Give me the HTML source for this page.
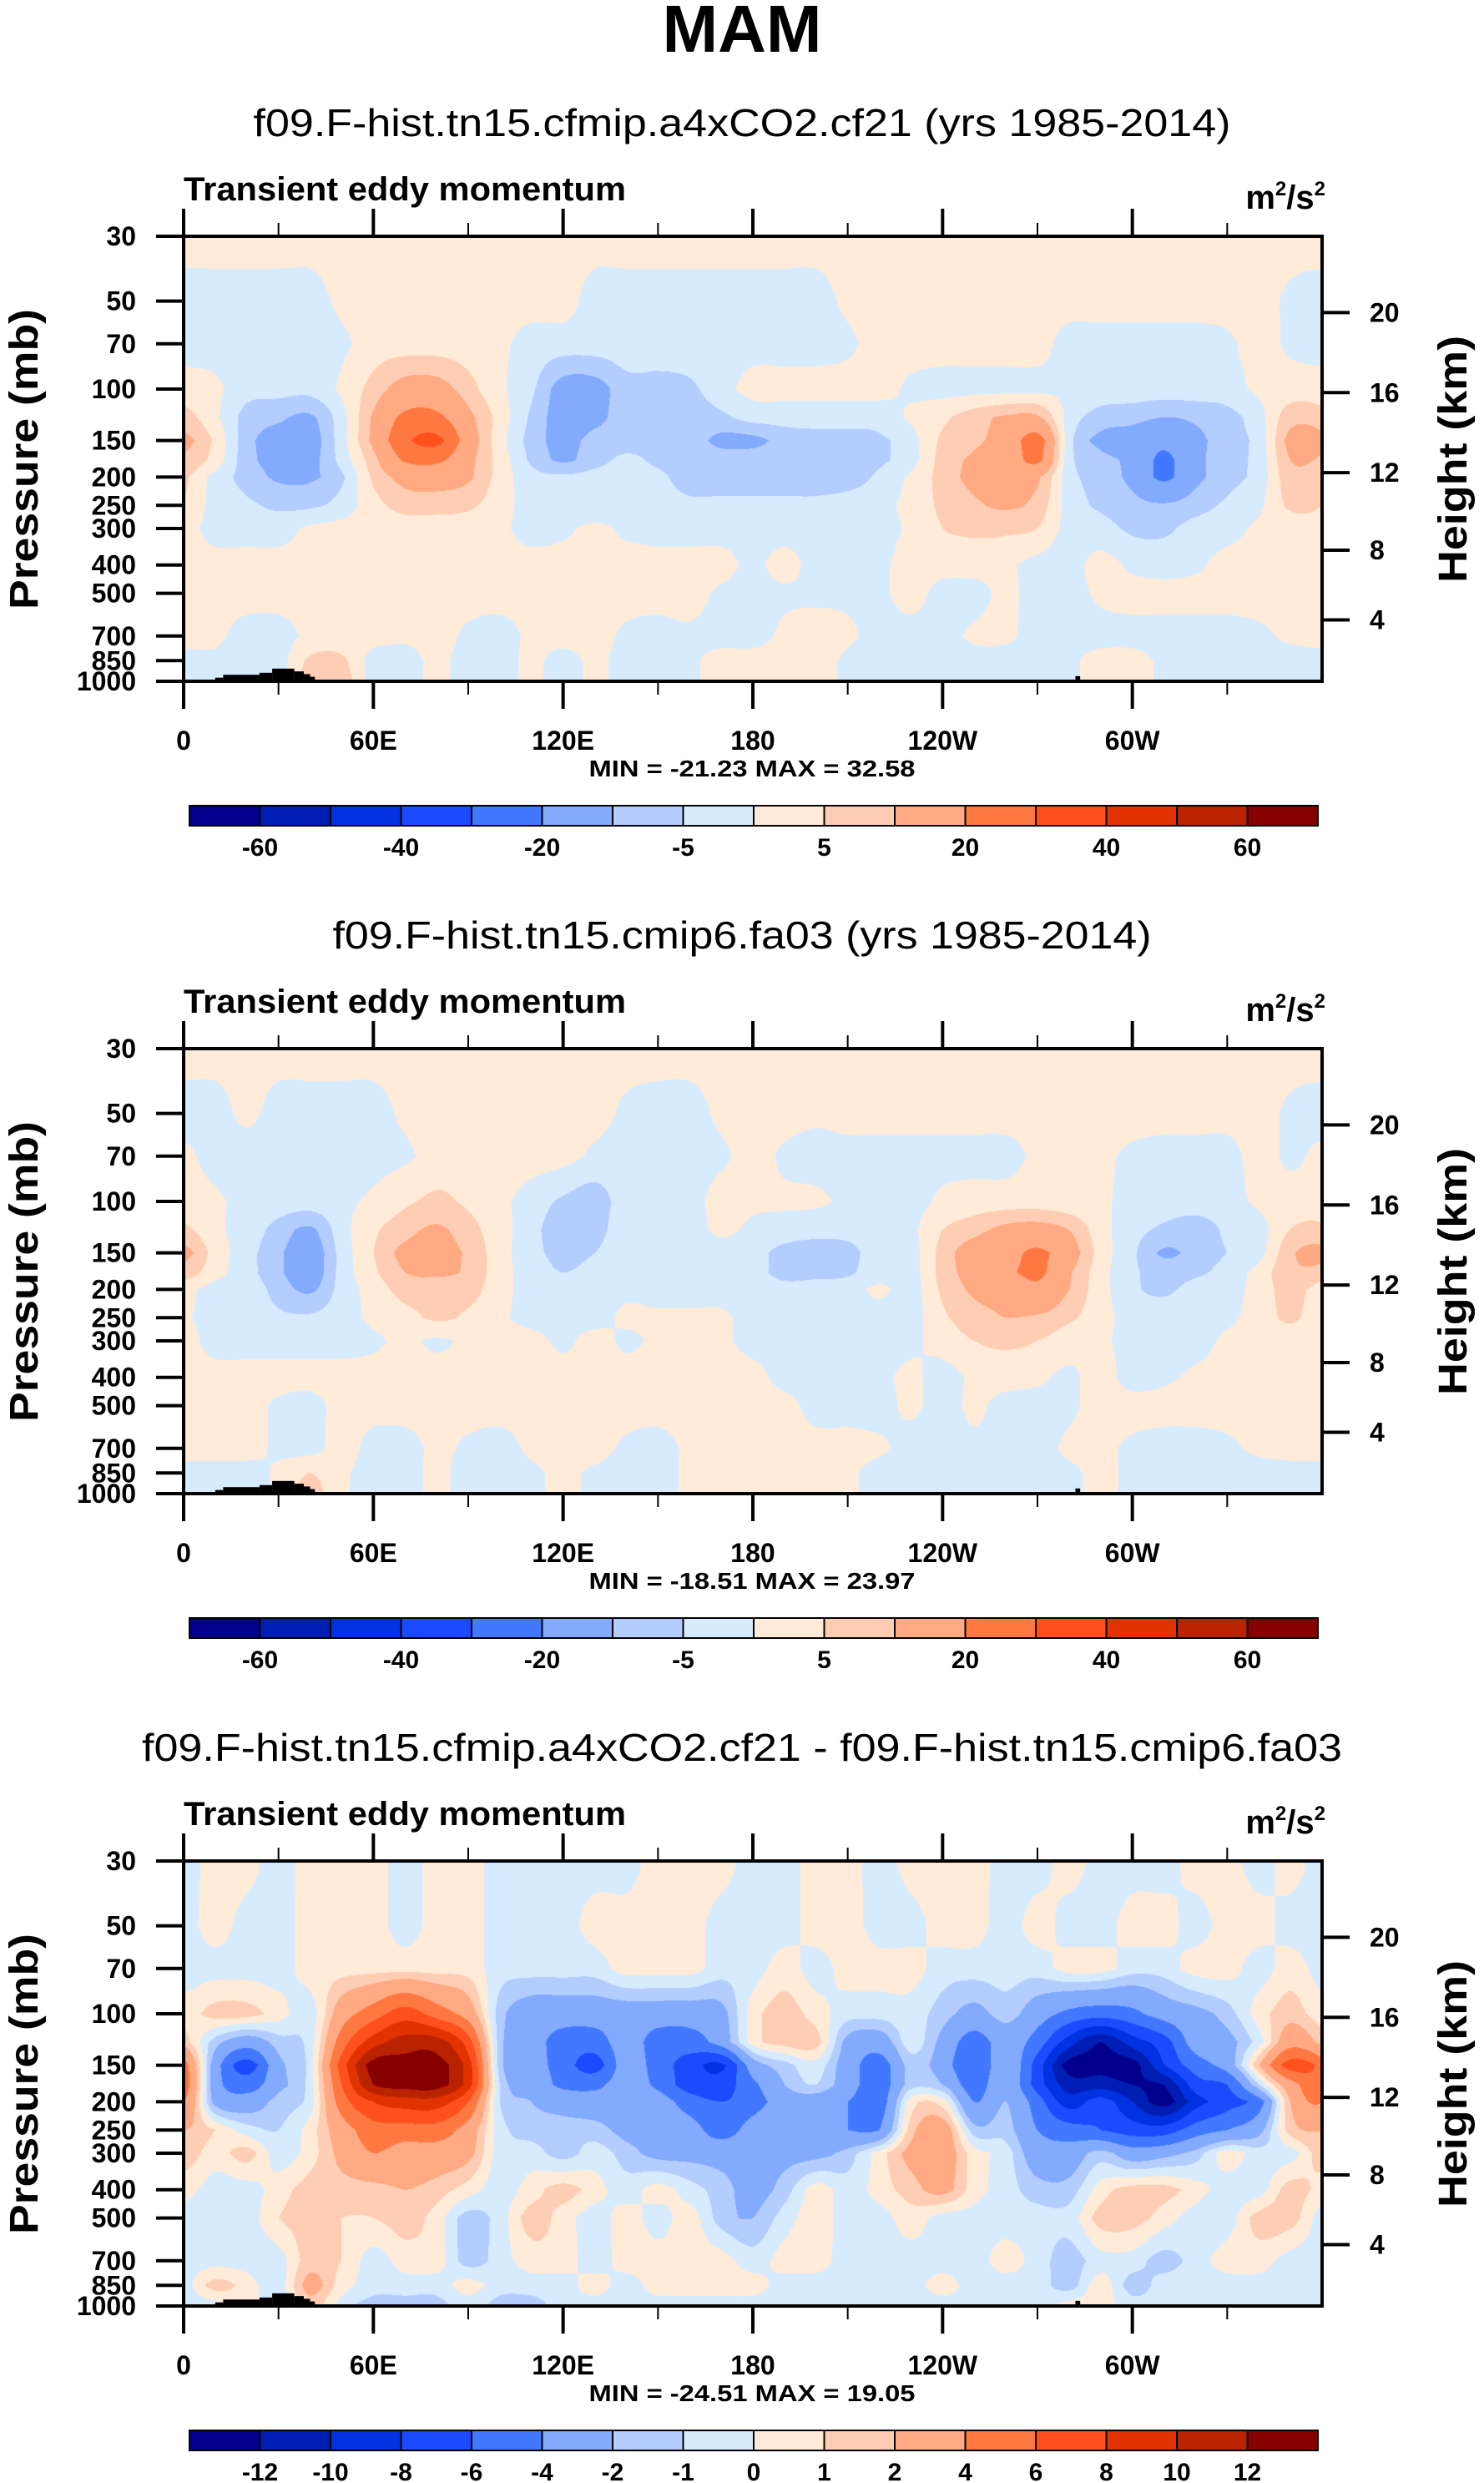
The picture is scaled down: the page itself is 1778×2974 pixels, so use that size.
<!DOCTYPE html>
<html>
<head>
<meta charset="utf-8">
<style>
  html,body{margin:0;padding:0;background:#fff;}
  #root{position:relative;width:1778px;height:2974px;overflow:hidden;background:#fff;}
  canvas{position:absolute;left:220px;}
  svg{position:absolute;left:0;top:0;}
  text{font-family:"Liberation Sans",Arial,sans-serif;font-weight:bold;fill:#000;}
</style>
</head>
<body>
<div id="root">
  <canvas id="c0" width="1364" height="533" style="top:283px"></canvas>
  <canvas id="c1" width="1364" height="533" style="top:1256px"></canvas>
  <canvas id="c2" width="1364" height="533" style="top:2229px"></canvas>
  <svg id="svg" width="1778" height="2974" xmlns="http://www.w3.org/2000/svg">
    <text x="889" y="62" font-size="80" text-anchor="middle">MAM</text>
  </svg>
</div>
<script>
// ---------------- data ----------------
const pLevels=[30,50,70,100,125,150,175,200,250,300,400,500,700,850,1000];
const lonGrid=[0,10,20,30,40,50,60,70,80,90,100,110,120,130,140,150,160,170,180,190,200,210,220,230,240,250,260,270,280,290,300,310,320,330,340,350,360];

const panel1Values=[
[2,2,2,2,2,2,2,2,2,2,2,2,2,2,2,2,2,2,2,2,2,2,2,2,2,2,2,2,2,2,2,2,2,2,2,2,2],
[-2,-2,-2,-2,-2,1,2,2,2,2,2,2,2,-2,-2,-2,-2,-2,-2,-2,-2,1,2,2,2,2,2,2,2,2,2,2,2,2,2,-1,-2],
[-2,-2,-2,-2,-2,-1,2,2,2,2,1,-2,-2,-2,-2,-2,-2,-2,-2,-2,-2,-1,2,2,2,2,2,2,-2,-2,-2,-2,-2,-1,2,-1,-2],
[2,1,-3,-3,-3,1,7,13,13,7,1,-4,-13,-13,-7,-7,-6,-2,2,2,2,2,2,-1,-2,-2,-2,-2,-1,-2,-2,-2,-2,-2,1,2,2],
[7,1,-7,-9,-11,-2,11,22,22,12,3,-6,-13,-12,-7,-7,-7,-6,-3,-3,-3,-3,-3,1,4,8,11,11,-2,-7,-8,-10,-9,-7,-2,8,12],
[12,4,-8,-13,-13,-2,12,28,33,15,2,-7,-12,-8,-7,-7,-7,-12,-12,-8,-7,-7,-6,-2,6,9,13,24,-3,-12,-14,-18,-12,-7,-3,12,12],
[9,3,-8,-12,-12,-3,8,21,22,12,3,-6,-11,-7,-4,-6,-7,-7,-7,-7,-7,-7,-6,-2,7,11,13,22,-3,-8,-12,-22,-12,-7,-3,10,12],
[6,-2,-7,-11,-11,-6,6,12,13,11,3,-3,-4,-3,-3,-4,-7,-7,-7,-7,-7,-7,-4,1,7,12,14,11,-3,-7,-12,-22,-12,-7,-3,8,11],
[5,-2,-4,-6,-6,-3,3,7,7,6,2,-2,-3,-3,-2,-3,-4,-4,-4,-4,-4,-3,-2,2,6,9,11,8,-2,-6,-8,-9,-7,-4,-1,6,7],
[2,-2,-2,-2,1,2,2,2,2,2,1,-2,-1,1,-1,-2,-2,-2,-2,-2,-2,-2,-2,1,5,6,6,5,-2,-3,-6,-6,-3,-2,1,2,2],
[2,2,2,2,2,2,2,2,2,2,2,2,2,2,2,2,2,2,-1,2,-2,-2,-1,2,2,2,1,-2,-2,2,-1,-2,-1,2,2,2,2],
[2,2,2,2,2,2,2,2,2,2,2,2,2,2,2,2,2,-1,-2,-1,-1,-1,-1,2,-2,-2,1,-2,-2,1,2,2,2,2,2,2,2],
[2,1,-2,-2,1,2,2,1,2,-1,-2,1,2,2,-1,-2,-1,-2,-2,1,2,1,-2,-2,-2,1,1,-2,-2,-2,-2,-2,-2,-2,-1,1,2],
[-2,-1,-2,-2,6,6,-2,-2,1,-2,-2,1,-2,1,-2,-2,-1,2,2,2,2,-1,-2,-2,-2,-2,-2,-2,-1,2,2,-1,-2,-2,-2,-2,-2],
[-2,-1,-2,-2,8,8,-2,-2,1,-2,-2,1,-2,1,-2,-2,-1,2,2,2,2,-1,-2,-2,-2,-2,-2,-2,-1,2,2,-1,-2,-2,-2,-2,-2]
];

const panel2Values=[
[2,2,2,2,2,2,2,2,2,2,2,2,2,2,2,2,2,2,2,2,2,2,2,2,2,2,2,2,2,2,2,2,2,2,2,2,2],
[-2,-2,1,-2,-2,-2,-2,1,2,2,2,2,2,2,-1,-2,-2,1,2,2,1,2,2,2,2,2,2,2,2,2,2,2,2,2,2,-1,-2],
[1,-2,-2,-2,-2,-2,-2,-1,2,2,2,2,2,-1,-2,-2,-2,-1,2,-1,-2,-2,-2,-2,-2,-2,-2,1,2,1,-1,-2,-2,-2,2,-1,-2],
[2,1,-2,-2,-2,-1,1,4,6,4,1,-2,-6,-8,-2,-2,-2,2,1,1,1,-1,-2,-2,1,2,2,2,1,1,-2,-2,-2,-2,1,2,2],
[6,1,-2,-7,-11,-2,4,8,11,7,2,-3,-9,-7,-2,-2,-2,1,-1,-2,-3,-3,-2,-1,5,8,12,13,10,2,-3,-6,-8,-4,-2,5,8],
[12,3,-3,-9,-14,-3,5,12,13,9,2,-3,-7,-5,-2,-2,-2,-2,-3,-7,-8,-7,-2,-2,7,14,16,22,14,3,-4,-11,-8,-5,-2,9,12],
[8,2,-3,-9,-14,-3,4,10,11,9,2,-2,-5,-3,-2,-2,-2,-2,-3,-7,-7,-6,-2,-2,7,13,18,22,11,2,-4,-7,-6,-3,2,9,12],
[2,-2,-2,-7,-11,-3,2,7,7,7,2,-2,-2,-2,-1,-2,-2,-2,-2,-3,-2,-2,1,-2,6,11,12,18,10,2,-4,-6,-3,-2,2,7,8],
[1,-2,-2,-4,-4,-2,1,3,6,4,1,-2,-2,-2,1,1,1,1,-2,-2,-2,-1,-2,-2,4,8,10,9,6,2,-2,-2,-2,-1,2,6,5],
[2,-2,-2,-2,-2,-2,-1,1,-1,1,2,2,-1,2,-1,1,1,1,-2,-2,-2,-1,-2,-1,2,5,6,5,2,1,-2,-2,-2,1,2,2,2],
[2,2,2,2,2,2,2,2,2,2,2,2,2,2,2,2,2,2,2,-2,-2,-1,-1,1,-2,1,2,1,-1,2,-2,-1,1,2,2,2,2],
[2,2,2,-1,-2,2,2,2,2,2,2,2,2,2,2,2,2,2,2,2,-2,-2,-2,1,-2,1,-2,-2,-1,2,2,2,2,2,2,2,2],
[2,2,2,-1,-2,2,-2,-2,1,-1,-2,1,2,2,-1,-2,1,2,2,2,2,2,1,-2,-2,-1,-2,-2,1,1,-1,-2,-2,-1,1,2,2],
[-2,-2,-2,1,5,1,-2,-2,1,-2,-2,-1,1,-1,-2,-2,1,2,2,2,2,1,-2,-2,-2,-2,-2,-2,-1,1,-1,-2,-2,-2,-2,-2,-2],
[-2,-2,-2,1,7,1,-2,-2,1,-2,-2,-1,1,-1,-2,-2,1,2,2,2,2,1,-2,-2,-2,-2,-2,-2,-1,1,-1,-2,-2,-2,-2,-2,-2]
];

const panel3Values=[
[-0.5,0.5,0.5,-0.5,0.5,0.5,0.5,-0.5,0.5,0.5,-0.5,-0.5,-0.5,-0.5,-0.5,0.5,0.5,0.5,-0.5,-0.5,0.5,0.5,-0.5,0.5,0.5,0.5,-0.5,-0.5,0.5,-0.5,-0.5,-0.5,0.5,0.5,-0.5,0.5,-0.5],
[-0.5,0.5,-0.5,-0.5,0.5,0.5,0.5,-0.5,0.5,0.5,-0.5,-0.5,-0.5,0.5,0.5,0.5,0.5,-0.5,-0.5,-0.5,0.5,0.5,-0.5,-0.5,0.5,0.5,-0.5,0.5,-0.5,-0.5,0.5,0.5,-0.5,0.5,0.5,-0.5,-0.5],
[-0.5,-0.5,-0.5,-0.5,0.5,0.5,0.5,0.5,0.5,0.5,-0.5,-0.5,-0.5,-0.5,0.5,0.5,0.5,-0.5,-0.5,0.5,-0.5,0.5,0.5,0.5,-0.5,-0.5,-0.5,-0.5,0.5,0.5,-0.5,-0.5,0.5,0.5,-0.5,0.5,-0.5],
[0.5,1.5,1.5,0.5,-0.5,3,5,7,5,3,-1.5,-3,-3,-3,-3,-3,-3,-2.5,0.5,1.5,0.5,-0.5,-0.5,-0.5,-1.5,-2.5,-1.5,-3,-4.5,-5,-4.5,-3,-2.5,-1.5,0.5,1.5,0.5],
[1.5,-1.5,-3,-1.5,-0.5,5,9,11,11,7,-1.5,-3,-5,-5,-3,-5,-5,-3,0.5,1.5,1.5,-2.5,-3,-0.5,-2.5,-5,-3,-5,-9,-12,-9,-7,-3,-2.5,-0.5,3,5],
[5,-3,-7,-2.5,-0.5,7,13,13,13,9,-1.5,-3,-5,-7,-3,-5,-7,-8.5,-3,-1.5,-0.5,-3,-5,-1.5,-3,-6,-2.5,-7,-13,-13,-13,-8,-5,-3,2,7,5],
[5,-3,-5,-2.5,-0.5,6,12,13,13,9,-1,-2.5,-4.5,-4.5,-3,-4.5,-7,-7,-4.5,-2,-1,-3,-5,-1.5,-2,-5,-2.5,-7,-11,-11,-12,-12,-7,-6,-1,3,5],
[4,-2.5,-3,-1.5,-0.5,5,8,9,9,6,-1,-2,-2.5,-3,-3,-3,-5,-6,-5,-3,-3,-4,-5,0.5,0.5,-4,-2,-5,-9,-7,-10,-13,-9,-7,-5,2,4],
[2,1,-0.5,-1,0.5,3,5,5,5,3,-0.5,-1.5,-1.5,-1.5,-2.5,-2.5,-3,-5,-3,-2,-3,-4,-4,1.5,3,-1.5,-1.5,-4,-5,-6,-7,-7,-5,-4,-2.5,1.5,2],
[1.5,0.5,1.5,-0.5,0.5,2.5,4,3,3,2.5,-0.5,-0.5,-1.5,-0.5,-1.5,-2.5,-2.5,-2.5,-2.5,-2.5,-2.5,-1.5,0.5,2.5,3,0.5,-0.5,-3,-3,-1.5,-3,-2.5,-1.5,0.5,-0.5,-0.5,1.5],
[0.5,-0.5,-0.5,0.5,1.5,1.5,1.5,2,1.5,0.5,-0.5,0.5,1.5,0.5,-0.5,0.5,-0.5,-1.5,-2.5,-1.5,0.5,-0.5,0.5,1.5,2.5,0.5,-0.5,-1.5,-1.5,0.5,1.5,1.5,0.5,-0.5,-0.5,1.5,0.5],
[-0.5,-0.5,-0.5,1,1.5,1,1,1.5,0.5,-1.5,-0.5,1.5,0.5,-0.5,0.5,-0.5,0.5,-1.5,-2,-0.5,0.5,-0.5,-0.5,0.5,-0.5,-0.5,-0.5,-0.5,-0.5,1.5,1.5,0.5,-0.5,-0.5,1.5,1.5,-0.5],
[-0.5,-0.5,-0.5,-0.5,1.5,1,-0.5,0.5,0.5,-1.5,-0.5,0.5,0.5,-0.5,0.5,0.5,0.5,0.5,-0.5,0.5,0.5,-0.5,-0.5,-0.5,-0.5,-0.5,0.5,-0.5,-1.5,-0.5,-0.5,-1.5,-0.5,0.5,0.5,-0.5,-0.5],
[-0.5,1.5,0.5,-0.5,2.5,0.5,-0.5,-0.5,-0.5,0.5,-0.5,-0.5,-0.5,0.5,-0.5,0.5,0.5,0.5,0.5,-0.5,-0.5,-0.5,-0.5,-0.5,0.5,-0.5,-0.5,-0.5,-1.5,0.5,-1.5,-0.5,-0.5,-0.5,-0.5,-0.5,-0.5],
[-0.5,-0.5,0.5,-0.5,1.5,-0.5,-1.5,-1.5,-1.5,-0.5,-1.5,-1.5,-0.5,-0.5,-0.5,-0.5,-0.5,-0.5,-0.5,-0.5,-0.5,-0.5,-0.5,-0.5,-0.5,-0.5,-0.5,-0.5,0.5,0.5,-0.5,-0.5,-0.5,-0.5,-0.5,-0.5,-0.5]
];

const absBounds=[-60,-50,-40,-30,-20,-10,-5,0,5,10,20,30,40,50,60];
const diffBounds=[-12,-10,-8,-6,-4,-2,-1,0,1,2,4,6,8,10,12];
const binColors=["#00008C","#001EB4","#0032E1","#1A4BFF","#4178FF","#82AAFF","#B4CDFF","#D7EBFF","#FFEBD7","#FFCDB4","#FFAA82","#FF7841","#FF501E","#E13200","#B92300","#870000"];
const absTickLabels=["-60","-40","-20","-5","5","20","40","60"];
const absTickIdx=[1,3,5,7,9,11,13,15];
const diffTickLabels=["-12","-10","-8","-6","-4","-2","-1","0","1","2","4","6","8","10","12"];
const diffTickIdx=[1,2,3,4,5,6,7,8,9,10,11,12,13,14,15];
const pressureTicks=[30,50,70,100,150,200,250,300,400,500,700,850,1000];
const heightTicks=[4,8,12,16,20];
const lonMajor=[0,60,120,180,240,300];
const lonLabels=["0","60E","120E","180","120W","60W"];
const lonMinor=[30,90,150,210,270,330];
const topoLon=[10,12.5,24,28,35,38,40,41.5];
const topoP=[972,950,935,905,925,945,965];
const topoLon2=[101,104,118,120,282,283.5,310];
const topoP2=[993,1000,993,1000,960,990];
const panelTitles=["f09.F-hist.tn15.cfmip.a4xCO2.cf21 (yrs 1985-2014)","f09.F-hist.tn15.cmip6.fa03 (yrs 1985-2014)","f09.F-hist.tn15.cfmip.a4xCO2.cf21 - f09.F-hist.tn15.cmip6.fa03"];
const panelMin=["-21.23","-18.51","-24.51"];
const panelMax=["32.58","23.97","19.05"];

// ---------------- layout ----------------
const W=1364,H=533,L=220;
const panelTops=[283,1256,2229];
const titleLens=[1171,981,1438];
const NS="http://www.w3.org/2000/svg";
const svg=document.getElementById('svg');
function xOf(lon){return L+W*lon/360;}
function yOf(p,top){return top+H*Math.log(p/30)/Math.log(1000/30);}
function pStd(zkm){const z=zkm*1000;if(z<=11000)return 1013.25*Math.pow(1-2.25577e-5*z,5.25588);return 226.32*Math.exp(-(z-11000)/6341.6);}
function mk(tag,attrs,parent){const e=document.createElementNS(NS,tag);for(const k in attrs)e.setAttribute(k,attrs[k]);(parent||svg).appendChild(e);return e;}
function hexRGB(h){return [parseInt(h.substr(1,2),16),parseInt(h.substr(3,2),16),parseInt(h.substr(5,2),16)];}

function sampleRow(row,f){
  const n=36;const i=Math.floor(f);const u=f-i;
  const g=k=>row[((k%n)+n)%n];
  const p0=g(i-1),p1=g(i),p2=g(i+1),p3=g(i+2);
  return 0.5*((2*p1)+(-p0+p2)*u+(2*p0-5*p1+4*p2-p3)*u*u+(-p0+3*p1-3*p2+p3)*u*u*u);
}
function renderField(canvas,rows,bounds){
  const ctx=canvas.getContext('2d');const img=ctx.createImageData(W,H);const d=img.data;
  const cols=binColors.map(hexRGB);
  const nx=lonGrid.length-1;
  const interp=rows.map(r=>{const a=new Float32Array(W);for(let x=0;x<W;x++)a[x]=sampleRow(r,(x+0.5)/W*nx);return a;});
  const lp=pLevels.map(Math.log);
  for(let y=0;y<H;y++){
    const l=Math.log(30)+(y+0.5)/H*Math.log(1000/30);
    let r=0;while(r<lp.length-2&&l>lp[r+1])r++;
    const t=Math.min(1,Math.max(0,(l-lp[r])/(lp[r+1]-lp[r])));
    const A=interp[r],B=interp[r+1];
    for(let x=0;x<W;x++){
      const v=A[x]*(1-t)+B[x]*t;
      let b=0;while(b<bounds.length&&bounds[b]<v)b++;
      const c=cols[b];const k=(y*W+x)*4;
      d[k]=c[0];d[k+1]=c[1];d[k+2]=c[2];d[k+3]=255;
    }
  }
  ctx.putImageData(img,0,0);
}

const values=[panel1Values,panel2Values,panel3Values];
const bnds=[absBounds,absBounds,diffBounds];
for(let i=0;i<3;i++) renderField(document.getElementById('c'+i),values[i],bnds[i]);

function drawTopo(top,g){
  for(let i=0;i<topoP.length;i++){
    const x0=xOf(topoLon[i]),x1=xOf(topoLon[i+1]),y=yOf(topoP[i],top);
    const r=mk('rect',{x:x0,y:y,width:x1-x0,height:top+H-y,fill:'#000'},g);
    
    
  }
  for(let i=0;i<topoP2.length;i++){
    if(topoP2[i]>=1000)continue;
    const x0=xOf(topoLon2[i]),x1=xOf(topoLon2[i+1]),y=yOf(topoP2[i],top);
    const r=mk('rect',{x:x0,y:y,width:x1-x0,height:top+H-y,fill:'#000'},g);
    
    
  }
}

for(let pi=0;pi<3;pi++){
  const top=panelTops[pi];const off=top-283;
  const g=mk('g',{});
  
  
  drawTopo(top,g);
  // title
  const t=mk('text',{x:889,y:163+off,'font-size':46,'font-weight':'normal','text-anchor':'middle',textLength:titleLens[pi],lengthAdjust:'spacingAndGlyphs'},g);
  t.setAttribute('style','font-weight:normal');
  t.textContent=panelTitles[pi];
  
  
  const lt=mk('text',{x:220,y:240+off,'font-size':40,textLength:530,lengthAdjust:'spacingAndGlyphs'},g);
  lt.textContent='Transient eddy momentum';
  
  
  const ut=mk('text',{x:1588,y:250+off,'font-size':40,'text-anchor':'end'},g);
  ut.innerHTML='m<tspan font-size="24" dy="-16">2</tspan><tspan dy="16">/s</tspan><tspan font-size="24" dy="-16">2</tspan>';
  
  
  // frame
  const fr=mk('rect',{x:L,y:top,width:W,height:H,fill:'none',stroke:'#000','stroke-width':4},g);
  
  
  // lon ticks
  lonMajor.forEach((lon,i)=>{
    const x=xOf(lon);
    const a=mk('line',{x1:x,x2:x,y1:top,y2:top-33,stroke:'#000','stroke-width':4},g);
    
    
    const b=mk('line',{x1:x,x2:x,y1:top+H,y2:top+H+33,stroke:'#000','stroke-width':4},g);
    
    
    const tx=mk('text',{x:x,y:top+H+82,'font-size':32,'text-anchor':'middle'},g);
    tx.textContent=lonLabels[i];
    
    
  });
  lonMinor.forEach(lon=>{
    const x=xOf(lon);
    const a=mk('line',{x1:x,x2:x,y1:top,y2:top-16,stroke:'#000','stroke-width':2},g);
    
    
    const b=mk('line',{x1:x,x2:x,y1:top+H,y2:top+H+16,stroke:'#000','stroke-width':2},g);
    
    
  });
  // pressure ticks
  pressureTicks.forEach(p=>{
    const y=yOf(p,top);
    const a=mk('line',{x1:L-33,x2:L,y1:y,y2:y,stroke:'#000','stroke-width':4},g);
    
    
    const tx=mk('text',{x:163,y:y+11,'font-size':32,'text-anchor':'end'},g);
    tx.textContent=String(p);
    
    
  });
  heightTicks.forEach(z=>{
    const y=yOf(pStd(z),top);
    const a=mk('line',{x1:L+W,x2:L+W+33,y1:y,y2:y,stroke:'#000','stroke-width':4},g);
    
    
    const tx=mk('text',{x:1641,y:y+11,'font-size':32},g);
    tx.textContent=String(z);
    
    
  });
  const yl=mk('text',{x:0,y:0,'font-size':48,'text-anchor':'middle',textLength:360,lengthAdjust:'spacingAndGlyphs',transform:'translate(45,'+(550+off)+') rotate(-90)'},g);
  yl.textContent='Pressure (mb)';
  
  
  const yr=mk('text',{x:0,y:0,'font-size':48,'text-anchor':'middle',textLength:296,lengthAdjust:'spacingAndGlyphs',transform:'translate(1757,'+(550+off)+') rotate(-90)'},g);
  yr.textContent='Height (km)';
  
  
  const mm=mk('text',{x:901,y:930+off,'font-size':28,'text-anchor':'middle',textLength:391,lengthAdjust:'spacingAndGlyphs'},g);
  mm.textContent='MIN = '+panelMin[pi]+'  MAX =  '+panelMax[pi];
  
  
  // colorbar
  const cbx=227,cbw=1352,cby=965+off,cbh=24,bw=cbw/16;
  binColors.forEach((c,i)=>{
    const r=mk('rect',{x:cbx+i*bw,y:cby,width:bw,height:cbh,fill:c,stroke:'#000','stroke-width':2},g);
    
    
  });
  const labs=pi<2?absTickLabels:diffTickLabels;
  const idx=pi<2?absTickIdx:diffTickIdx;
  labs.forEach((s,i)=>{
    const tx=mk('text',{x:cbx+idx[i]*bw,y:1025+off,'font-size':30,'text-anchor':'middle'},g);
    tx.textContent=s;
    
    
  });
}
</script>
</body>
</html>
